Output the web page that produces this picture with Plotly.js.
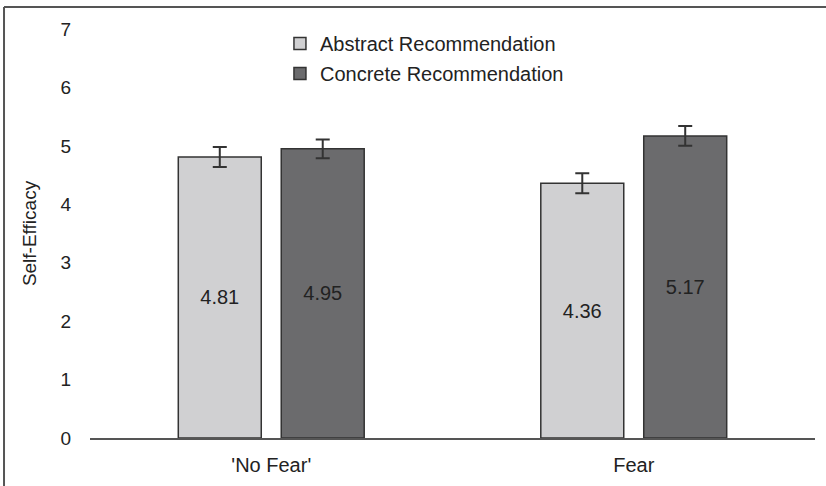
<!DOCTYPE html>
<html><head><meta charset="utf-8">
<script src="https://cdn.plot.ly/plotly-3.0.1.min.js"></script>
<style>html,body{margin:0;padding:0;background:#fff}#c{width:826px;height:486px}</style>
</head><body><div id="c"></div>
<script>
const categories = ["'No Fear'", "Fear"];
const seriesNames = ["Abstract Recommendation", "Concrete Recommendation"];
const abstractVals = [4.81, 4.36];
const concreteVals = [4.95, 5.17];
const abstractErr = [0.17, 0.17];
const concreteErr = [0.16, 0.17];
const yTicks = [0, 1, 2, 3, 4, 5, 6, 7];
const colors = ["#d0d0d2", "#6b6b6d"];

const fam = "Liberation Sans, Arial, sans-serif";
const fnt = {family: fam, size: 20, color: "#222"};
function mk(name, vals, err, color, grp) {
  return {
    type: "bar", name: name, x: categories, y: vals,
    legendgroup: grp,
    marker: {color: color, line: {color: "#333", width: 1.5}},
    text: vals.map(v => v.toFixed(2)), textposition: "inside",
    insidetextanchor: "middle", textangle: 0,
    insidetextfont: {family: fam, size: 20, color: "#222"},
    error_y: {type: "data", array: err, visible: true, color: "#333", thickness: 2, width: 7},
    hoverinfo: "skip"
  };
}
const data = [
  mk(seriesNames[0], abstractVals, abstractErr, colors[0], "a"),
  mk(seriesNames[1], concreteVals, concreteErr, colors[1], "b")
];
const layout = {
  width: 826, height: 486,
  margin: {l: 90, r: 11, t: 29, b: 48},
  paper_bgcolor: "#fff", plot_bgcolor: "#fff",
  font: fnt,
  barmode: "group", bargap: 0.432, bargroupgap: 0.194,
  showlegend: true,
  legend: {x: 0.262, y: 1.012, xanchor: "left", yanchor: "top", traceorder: "grouped",
           tracegroupgap: 1, font: {family: fam, size: 20, color: "#222"}, bgcolor: "rgba(0,0,0,0)"},
  xaxis: {showline: true, linecolor: "#555", linewidth: 2, showgrid: false, zeroline: false,
          ticks: "", ticklabelstandoff: 8, tickfont: fnt},
  yaxis: {range: [0, 7], tickvals: yTicks, showgrid: false, zeroline: false, showline: false,
          ticks: "", ticklabelstandoff: 18, tickfont: {family: fam, size: 19, color: "#222"},
          title: {text: "Self-Efficacy", font: {family: fam, size: 19, color: "#222"}, standoff: 18}},
  shapes: [
    {type: "line", xref: "paper", yref: "paper", x0: -0.1186, x1: 1.02, y0: 1.0538, y1: 1.0538,
     line: {color: "#555", width: 2}},
    {type: "line", xref: "paper", yref: "paper", x0: -0.1186, x1: -0.1186, y0: 1.0538, y1: -0.12,
     line: {color: "#555", width: 2}}
  ]
};
Plotly.newPlot("c", data, layout, {staticPlot: true});
</script></body></html>
